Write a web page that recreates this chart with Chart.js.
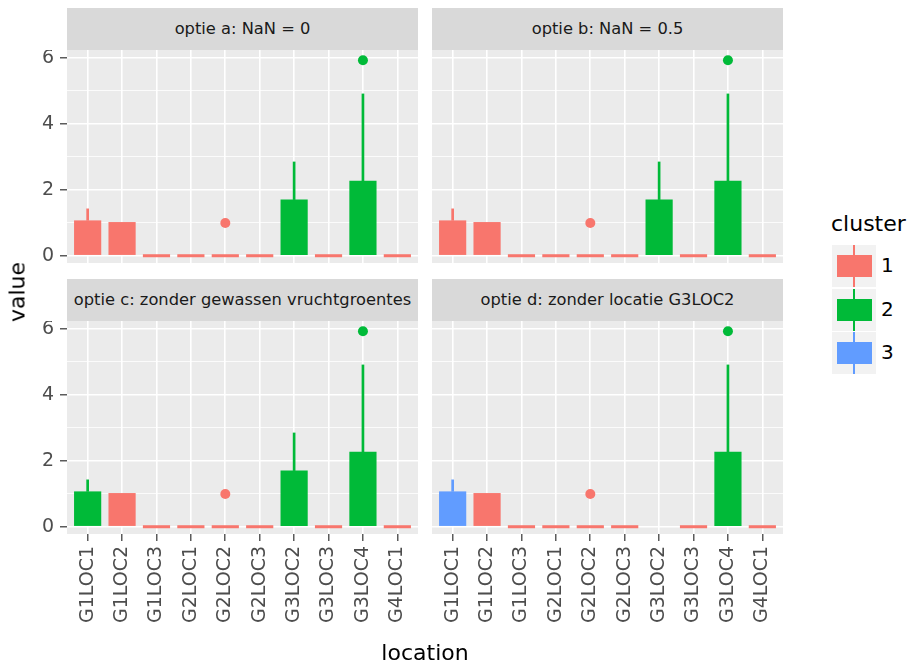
<!DOCTYPE html>
<html>
<head>
<meta charset="utf-8">
<script src="https://cdn.jsdelivr.net/npm/chart.js@4"></script>
<style>
  body { margin: 0; background: #fff; font-family: "DejaVu Sans", sans-serif; }
  #wrap { position: relative; width: 910px; height: 666px; overflow: hidden; }
  .panel { position: absolute; }
  .strip { position: absolute; background: #D9D9D9; color: #1A1A1A; font-size: 16.3px;
           height: 42px; line-height: 42px; text-align: center; white-space: nowrap; }
  .title { position: absolute; color: #000; font-size: 22px; }
  .key { position: absolute; left: 832px; width: 44px; height: 42px; background: #F2F2F2; }
  .key .wh { position: absolute; left: 21px; top: 0; width: 2px; height: 42px; }
  .key .bx { position: absolute; left: 5px; top: 10px; width: 35px; height: 22px; }
  .klab { position: absolute; left: 881px; font-size: 20px; color: #000; }
</style>
</head>
<body>
<div id="wrap">
  <canvas id="pa" class="panel"></canvas>
  <canvas id="pb" class="panel"></canvas>
  <canvas id="pc" class="panel"></canvas>
  <canvas id="pd" class="panel"></canvas>
  <div id="strips"></div>
  <div class="title" style="left: 17px; top: 292px; transform: translate(-50%, -50%) rotate(-90deg);">value</div>
  <div class="title" style="left: 425px; top: 652px; transform: translate(-50%, -50%);">location</div>
  <div class="title" style="left: 831px; top: 211px;">cluster</div>
  <div id="legend"></div>
</div>
<script>
document.addEventListener("DOMContentLoaded", function () {
  // data
  const locations = ["G1LOC1", "G1LOC2", "G1LOC3", "G2LOC1", "G2LOC2", "G2LOC3", "G3LOC2", "G3LOC3", "G3LOC4", "G4LOC1"];
  const panelTitles = [
    "optie a: NaN = 0",
    "optie b: NaN = 0.5",
    "optie c: zonder gewassen vruchtgroentes",
    "optie d: zonder locatie G3LOC2"
  ];
  const boxTop = [1.07, 1.02, 0, 0, 0, 0, 1.70, 0, 2.27, 0];
  const boxTopD = [1.07, 1.02, 0, 0, 0, 0, null, 0, 2.27, 0];
  const whiskerTop = [1.42, null, null, null, null, null, 2.84, null, 4.90, null];
  const whiskerTopD = [1.42, null, null, null, null, null, null, null, 4.90, null];
  const outliers = [null, null, null, null, 0.99, null, null, null, 5.92, null];
  const clusterA = [1, 1, 1, 1, 1, 1, 2, 1, 2, 1];
  const clusterB = [1, 1, 1, 1, 1, 1, 2, 1, 2, 1];
  const clusterC = [2, 1, 1, 1, 1, 1, 2, 1, 2, 1];
  const clusterD = [3, 1, 1, 1, 1, 1, null, 1, 2, 1];
  const clusterNames = ["1", "2", "3"];
  const yTicks = [0, 1, 2, 3, 4, 5, 6];

  const colors = { 1: "#F8766D", 2: "#00BA38", 3: "#619CFF" };

  const panelBg = {
    id: "panelBg",
    beforeDraw(chart) {
      const a = chart.chartArea;
      const ctx = chart.ctx;
      ctx.save();
      ctx.fillStyle = "#EBEBEB";
      ctx.fillRect(a.left, a.top, a.right - a.left, a.bottom - a.top);
      ctx.restore();
    }
  };

  function noPad(s) {
    s.paddingTop = 0;
    s.paddingBottom = 0;
    s.paddingLeft = 0;
    s.paddingRight = 0;
  }

  function makePanel(id, box, whisker, cluster, pos) {
    const canvas = document.getElementById(id);
    canvas.width = pos.w;
    canvas.height = pos.h;
    canvas.style.left = pos.x + "px";
    canvas.style.top = pos.y + "px";

    const colorOf = (ctx) => colors[cluster[ctx.raw.x]];

    const boxes = [];
    const whiskers = [];
    const points = [];
    locations.forEach((loc, i) => {
      if (box[i] !== null) boxes.push({ x: i, y: [0, box[i]] });
      if (whisker[i] !== null) whiskers.push({ x: i, y: [box[i], whisker[i]] });
      if (outliers[i] !== null && cluster[i] !== null) points.push({ x: i, y: outliers[i] });
    });

    new Chart(canvas, {
      type: "bar",
      data: {
        datasets: [
          {
            data: whiskers,
            backgroundColor: colorOf,
            barThickness: 2,
            grouped: false,
            order: 2
          },
          {
            data: boxes,
            backgroundColor: colorOf,
            barPercentage: 0.79,
            categoryPercentage: 1,
            minBarLength: 3,
            grouped: false,
            order: 1
          },
          {
            type: "scatter",
            data: points,
            pointRadius: 5,
            pointBackgroundColor: colorOf,
            pointBorderWidth: 0,
            order: 0
          }
        ]
      },
      options: {
        responsive: false,
        animation: false,
        layout: { padding: 0, autoPadding: false },
        plugins: { legend: { display: false }, tooltip: { enabled: false } },
        scales: {
          x: {
            type: "linear",
            min: -0.6,
            max: 9.6,
            offset: false,
            afterBuildTicks: (s) => { s.ticks = locations.map((l, i) => ({ value: i })); },
            afterFit: (s) => { s.height = pos.bottom ? 125 : 0; noPad(s); },
            border: { display: false },
            grid: {
              offset: false,
              color: "#FFFFFF",
              lineWidth: 1.6,
              drawTicks: pos.bottom,
              tickColor: "#333333",
              tickLength: 7,
              tickWidth: 1.2
            },
            ticks: {
              display: pos.bottom,
              autoSkip: false,
              maxRotation: 90,
              minRotation: 90,
              padding: 5,
              color: "#4D4D4D",
              font: { family: "DejaVu Sans", size: 19 },
              callback: (v) => locations[v]
            }
          },
          y: {
            min: -0.22,
            max: 6.23,
            afterBuildTicks: (s) => { s.ticks = yTicks.map((v) => ({ value: v })); },
            afterFit: (s) => { s.width = pos.left ? 67 : 0; noPad(s); },
            border: { display: false },
            grid: {
              color: "#FFFFFF",
              lineWidth: (c) => (c.tick.value % 2 === 0 ? 1.6 : 0.8),
              drawTicks: pos.left,
              tickColor: (c) => (c.tick.value % 2 === 0 ? "#333333" : "rgba(0,0,0,0)"),
              tickLength: 7,
              tickWidth: 1.2
            },
            ticks: {
              display: pos.left,
              autoSkip: false,
              padding: 6,
              color: "#4D4D4D",
              font: { family: "DejaVu Sans", size: 19 },
              callback: (v) => (v % 2 === 0 ? v : "")
            }
          }
        }
      },
      plugins: [panelBg]
    });
  }

  makePanel("pa", boxTop, whiskerTop, clusterA, { x: 0, y: 50, w: 418, h: 213, left: true, bottom: false });
  makePanel("pb", boxTop, whiskerTop, clusterB, { x: 432, y: 50, w: 351, h: 213, left: false, bottom: false });
  makePanel("pc", boxTop, whiskerTop, clusterC, { x: 0, y: 321, w: 418, h: 338, left: true, bottom: true });
  makePanel("pd", boxTopD, whiskerTopD, clusterD, { x: 432, y: 321, w: 351, h: 338, left: false, bottom: true });

  // facet strips
  const stripPos = [[67, 8], [432, 8], [67, 279], [432, 279]];
  const strips = document.getElementById("strips");
  panelTitles.forEach((t, i) => {
    const d = document.createElement("div");
    d.className = "strip";
    d.style.left = stripPos[i][0] + "px";
    d.style.top = stripPos[i][1] + "px";
    d.style.width = "351px";
    d.textContent = t;
    strips.appendChild(d);
  });

  // legend
  const legend = document.getElementById("legend");
  clusterNames.forEach((name, i) => {
    const top = 245 + i * 43.5;
    const c = colors[i + 1];
    const key = document.createElement("div");
    key.className = "key";
    key.style.top = top + "px";
    key.innerHTML = `<div class="wh" style="background:${c}"></div><div class="bx" style="background:${c}"></div>`;
    legend.appendChild(key);
    const lab = document.createElement("div");
    lab.className = "klab";
    lab.style.top = (top + 8) + "px";
    lab.textContent = name;
    legend.appendChild(lab);
  });
});
</script>
</body>
</html>
